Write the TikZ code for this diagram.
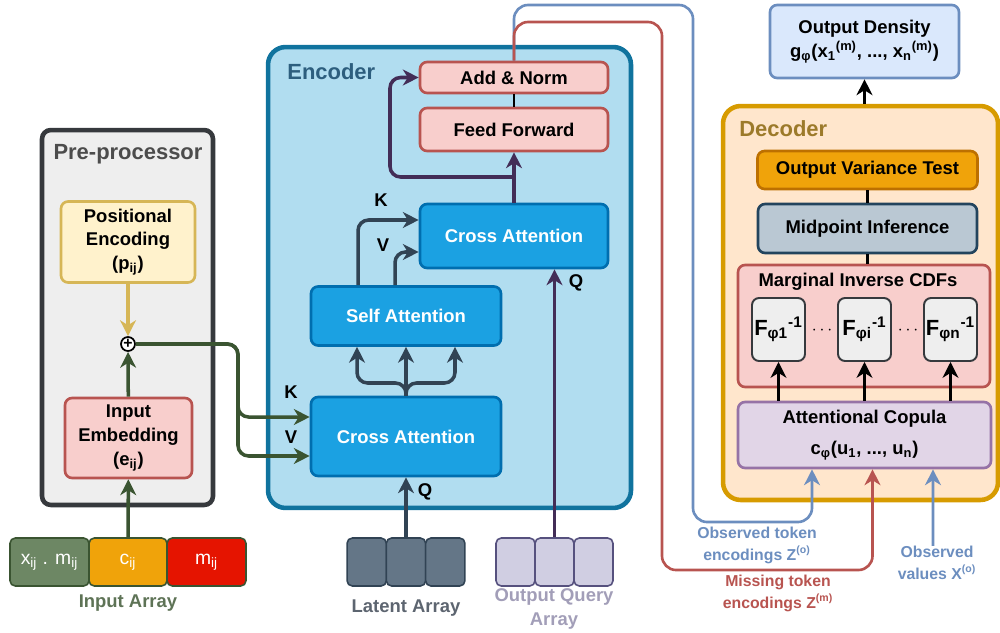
\documentclass[tikz,border=0pt]{standalone}
\usepackage{fontspec}
\setmainfont{Liberation Sans}
\usetikzlibrary{positioning,calc,arrows.meta}

\definecolor{preFill}{HTML}{EEEEEE}
\definecolor{preLine}{HTML}{36393D}
\definecolor{posFill}{HTML}{FFF2CC}
\definecolor{posLine}{HTML}{D6B656}
\definecolor{redFill}{HTML}{F8CECC}
\definecolor{redLine}{HTML}{B85450}
\definecolor{inGreen}{HTML}{3A5431}
\definecolor{inLabel}{HTML}{5E7356}
\definecolor{cellGreen}{HTML}{6D8764}
\definecolor{cellOrange}{HTML}{F0A30A}
\definecolor{cellRed}{HTML}{E51400}
\definecolor{encFill}{HTML}{B1DDF0}
\definecolor{encLine}{HTML}{10739E}
\definecolor{encTitle}{HTML}{2D5E7E}
\definecolor{attFill}{HTML}{1BA1E2}
\definecolor{attLine}{HTML}{006EAF}
\definecolor{slate}{HTML}{314354}
\definecolor{latFill}{HTML}{647687}
\definecolor{latLabel}{HTML}{5D6570}
\definecolor{qPurple}{HTML}{432D57}
\definecolor{qFill}{HTML}{D0CEE2}
\definecolor{qLine}{HTML}{56517E}
\definecolor{qLabel}{HTML}{A29EB8}
\definecolor{decFill}{HTML}{FFE6CC}
\definecolor{decLine}{HTML}{D79B00}
\definecolor{decTitle}{HTML}{9C7A2A}
\definecolor{ovtLine}{HTML}{BD7000}
\definecolor{midFill}{HTML}{BAC8D3}
\definecolor{midLine}{HTML}{23445D}
\definecolor{copFill}{HTML}{E1D5E7}
\definecolor{copLine}{HTML}{9673A6}
\definecolor{odFill}{HTML}{DAE8FC}
\definecolor{odLine}{HTML}{6C8EBF}

\newcommand{\tsub}[1]{\textsubscript{#1}}
\newcommand{\tsup}[1]{\textsuperscript{#1}}

\begin{document}
\begin{tikzpicture}[
    x=0.02cm, y=-0.02cm,
    every node/.style={font=\bfseries\fontsize{10.5}{13.6}\selectfont, inner sep=0pt},
    panel/.style={rounded corners=10pt, line width=2.6pt},
    paneltitle/.style={anchor=west, font=\bfseries\fontsize{12.5}{15}\selectfont},
    block/.style={rounded corners=4pt, line width=1.5pt, align=center},
    redbox/.style={block, draw=redLine, fill=redFill},
    attbox/.style={block, draw=attLine, fill=attFill, text=white},
    fbox/.style={block, draw=preLine, fill=preFill, minimum width=1.06cm, minimum height=1.26cm, line width=1.1pt, font=\bfseries\fontsize{12.5}{15}\selectfont},
    cell/.style={rounded corners=3pt, line width=0.9pt, minimum height=0.96cm, text=white, font=\fontsize{11}{13}\selectfont},
    note/.style={font=\bfseries\fontsize{9}{12.5}\selectfont, align=center},
    flow/.style={-{Stealth[length=9pt,width=9pt,inset=2.8pt]}, line width=2pt, rounded corners=6pt},
    link/.style={line width=1.6pt},
    route/.style={-{Stealth[length=9pt,width=9pt,inset=2.8pt]}, line width=1.5pt, rounded corners=8pt}
]
    \useasboundingbox (0,0) rectangle (1000,632);

    % Pre-processor
    \node[panel, draw=preLine, fill=preFill, rounded corners=5pt, minimum width=3.42cm, minimum height=7.5cm] (pre) at (127.5,317.5) {};
    \node[paneltitle, anchor=center, text=black!70] (pretitle) at (128,154) {Pre-processor};
    \node[block, draw=posLine, fill=posFill, minimum width=2.68cm, minimum height=1.62cm] (penc) at (128,242) {Positional\\Encoding\\(p\tsub{ij})};
    \node[circle, draw=black, fill=white, line width=1pt, minimum size=0.28cm, font=\bfseries\fontsize{9}{9}\selectfont] (plus) at (128,344) {+};
    \node[redbox, minimum width=2.54cm, minimum height=1.6cm] (emb) at (128.5,438) {Input\\Embedding\\(e\tsub{ij})};

    % Input array
    \node[cell, draw=inGreen, fill=cellGreen, minimum width=1.58cm] (inxm) at (49.5,562) {x\tsub{ij} . m\tsub{ij}};
    \node[cell, draw=inGreen, fill=cellOrange, minimum width=1.56cm] (inc) at (128,562) {c\tsub{ij}};
    \node[cell, draw=inGreen, fill=cellRed, minimum width=1.58cm] (inm) at (206.5,562) {m\tsub{ij}};
    \node[text=inLabel] (inlabel) at (128,603) {Input Array};

    \draw[flow, draw=posLine] (penc) -- (plus);
    \draw[flow, draw=inGreen] (emb) -- (plus);
    \draw[flow, draw=inGreen] (inc) -- (emb);

    % Encoder
    \node[panel, draw=encLine, fill=encFill, minimum width=7.26cm, minimum height=9.22cm] (enc) at (449.5,277.5) {};
    \node[paneltitle, text=encTitle] (enctitle) at (287,72) {Encoder};
    \node[redbox, minimum width=3.76cm, minimum height=0.62cm] (addnorm) at (514,77.5) {Add \& Norm};
    \node[redbox, minimum width=3.76cm, minimum height=0.86cm] (ffwd) at (514,129.5) {Feed Forward};
    \node[attbox, minimum width=3.76cm, minimum height=1.28cm] (crossB) at (514,236) {Cross Attention};
    \node[attbox, minimum width=3.8cm, minimum height=1.18cm] (selfatt) at (406,316) {Self Attention};
    \node[attbox, minimum width=3.8cm, minimum height=1.58cm] (crossA) at (406,436.5) {Cross Attention};

    % Latent and query arrays
    \foreach \cx [count=\i] in {366.7,406,445.3}
        \node[cell, draw=slate, fill=latFill, minimum width=0.786cm] (lat\i) at (\cx,562) {};
    \node[text=latLabel] (latlabel) at (406,608) {Latent Array};
    \foreach \cx [count=\i] in {515.5,554.5,593.5}
        \node[cell, draw=qLine, fill=qFill, minimum width=0.78cm] (qry\i) at (\cx,562) {};
    \node[text=qLabel, align=center] (qlabel) at (554,609) {Output Query\\Array};

    % K, V from the pre-processor
    \coordinate (kvbus) at (238,344);
    \draw[flow, draw=inGreen] (plus.east) -- (kvbus) |- ([yshift=0.39cm]crossA.west);
    \draw[flow, draw=inGreen] (plus.east) -- (kvbus) |- ([yshift=-0.39cm]crossA.west);
    \node (kA) at (291,392) {K};
    \node (vA) at (291,437) {V};

    % Latent path
    \draw[flow, draw=slate] (lat2) -- (crossA);
    \node (qA) at (425,492) {Q};
    \coordinate (fan) at (406,383);
    \draw[flow, draw=slate] (crossA.north) -- (fan) -| ([xshift=-0.98cm]selfatt.south);
    \draw[flow, draw=slate] (crossA.north) -- (selfatt.south);
    \draw[flow, draw=slate] (crossA.north) -- (fan) -| ([xshift=0.98cm]selfatt.south);
    \draw[flow, draw=slate] ([xshift=-0.96cm]selfatt.north) |- ([yshift=0.32cm]crossB.west);
    \draw[flow, draw=slate] ([xshift=-0.22cm]selfatt.north) |- ([yshift=-0.32cm]crossB.west);
    \node (kB) at (381,200) {K};
    \node (vB) at (383,245) {V};

    % Query path and output block
    \draw[flow, draw=qPurple] (qry2.north) -- (qry2.north |- crossB.south);
    \node (qB) at (576,283) {Q};
    \draw[flow, draw=qPurple] (crossB) -- (ffwd);
    \coordinate (resid) at (514,177);
    \draw[flow, draw=qPurple] (resid) -- (390,177) |- (addnorm.west);
    \draw[link] (ffwd) -- (addnorm);

    % Decoder
    \node[panel, draw=decLine, fill=decFill, minimum width=5.5cm, minimum height=7.88cm] (dec) at (860.5,303) {};
    \node[paneltitle, text=decTitle] (dectitle) at (739,129) {Decoder};
    \node[block, draw=ovtLine, fill=cellOrange, minimum width=4.4cm, minimum height=0.76cm] (ovt) at (867.5,170) {Output Variance Test};
    \node[block, draw=midLine, fill=midFill, minimum width=4.38cm, minimum height=0.98cm] (midinf) at (867.5,228.5) {Midpoint Inference};
    \node[redbox, minimum width=5.04cm, minimum height=2.44cm] (cdfs) at (864,326) {};
    \node (cdftitle) at (858,282) {Marginal Inverse CDFs};
    \node[fbox] (f1) at (778.5,329.5) {F\tsub{φ1}\tsup{-1}};
    \node[fbox] (fi) at (864.5,329.5) {F\tsub{φi}\tsup{-1}};
    \node[fbox] (fn) at (950.5,329.5) {F\tsub{φn}\tsup{-1}};
    \node[font=\fontsize{10}{12}\selectfont] (dots1) at (822,331) {$\cdots$};
    \node[font=\fontsize{10}{12}\selectfont] (dots2) at (908,331) {$\cdots$};
    \node[block, draw=copLine, fill=copFill, minimum width=5.06cm, minimum height=1.32cm] (copula) at (864.5,435) {Attentional Copula\\[4pt]c\tsub{φ}(u\tsub{1}, ..., u\tsub{n})};
    \node[block, draw=odLine, fill=odFill, minimum width=3.78cm, minimum height=1.46cm] (outdens) at (864.5,41.5) {Output Density\\g\tsub{φ}(x\tsub{1}\tsup{(m)}, ..., x\tsub{n}\tsup{(m)})};

    \draw[link] (ovt) -- (midinf);
    \draw[link] (midinf.south) -- (midinf.south |- cdfs.north);
    \foreach \f in {f1,fi,fn}
        \draw[flow] (copula.north -| \f.south) -- (\f.south);
    \draw[flow] (outdens.south |- dec.north) -- (outdens.south);

    % Encodings routed to the copula
    \node[note, text=odLine] (obstok) at (757,545) {Observed token\\encodings Z\tsup{(o)}};
    \node[note, text=redLine] (misstok) at (778,593) {Missing token\\encodings Z\tsup{(m)}};
    \node[note, text=odLine] (obsval) at (937,563) {Observed\\values X\tsup{(o)}};
    \draw[route, draw=odLine] (addnorm.north) |- (693,5) -- (693,522) -| ([xshift=-1.05cm]copula.south);
    \draw[route, draw=redLine] (addnorm.north) |- (662,22) -- (662,570) -| ([xshift=0.16cm]copula.south);
    \draw[route, draw=odLine] (obsval.north -| 933,0) -- ([xshift=1.37cm]copula.south);

\end{tikzpicture}
\end{document}
